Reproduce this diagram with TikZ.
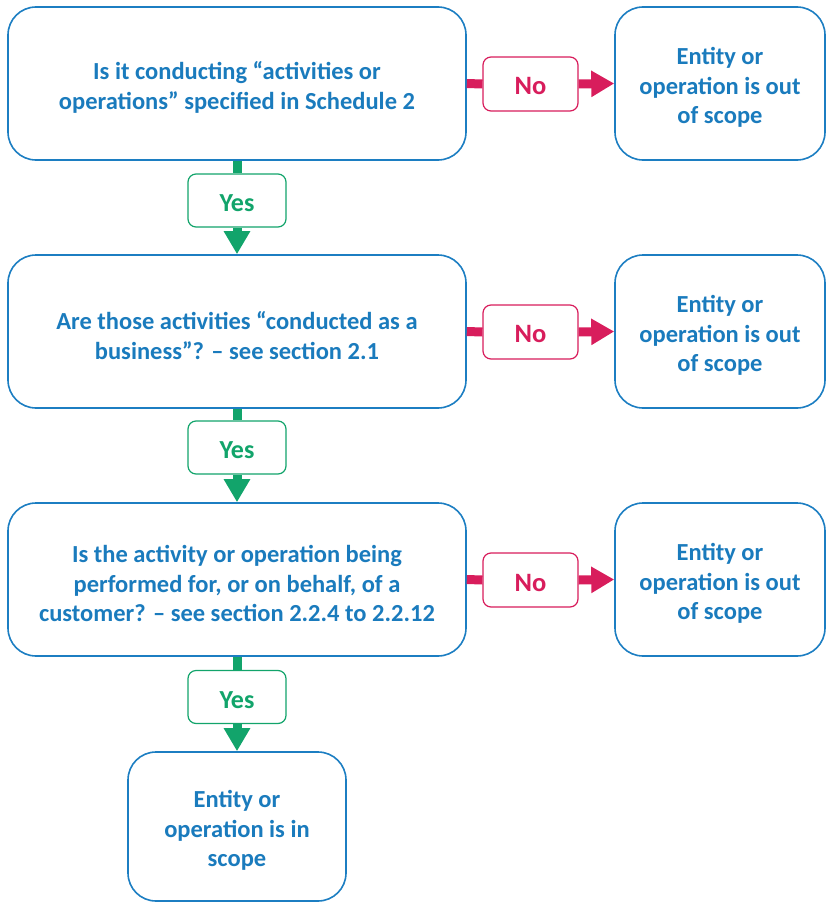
\documentclass[tikz,border=0pt]{standalone}
\usepackage{fontspec}
\setmainfont{Carlito}
\usetikzlibrary{arrows.meta}
\definecolor{boxblue}{HTML}{1C7EC2}
\definecolor{txtblue}{HTML}{1A7BBD}
\definecolor{nored}{HTML}{D81D5C}
\definecolor{yesgreen}{HTML}{12A46B}
\tikzset{
  qbox/.style={draw=boxblue, line width=1.6pt, rounded corners=28pt, minimum width=458pt, minimum height=153pt, inner sep=0pt},
  obox/.style={draw=boxblue, line width=1.6pt, rounded corners=28pt, minimum width=210pt, minimum height=153pt, inner sep=0pt},
  btext/.style={align=center, text=txtblue, font=\fontsize{24.5}{29.3}\selectfont\bfseries, inner sep=0pt, yshift=-4pt},
  nobox/.style={draw=nored, line width=1.2pt, rounded corners=8pt, minimum width=95pt, minimum height=54pt, fill=white},
  yesbox/.style={draw=yesgreen, line width=1.2pt, rounded corners=8pt, minimum width=98pt, minimum height=53pt, fill=white},
  notext/.style={text=nored, font=\fontsize{26.5}{28}\selectfont\bfseries, inner sep=0pt, yshift=-2.5pt},
  yestext/.style={text=yesgreen, font=\fontsize{26}{28}\selectfont\bfseries, inner sep=0pt, yshift=-3pt},
  redline/.style={draw=nored, line width=9pt},
  redarrow/.style={draw=nored, line width=9pt, -{Triangle[width=25pt,length=23pt]}},
  greenline/.style={draw=yesgreen, line width=9pt},
  greenarrow/.style={draw=yesgreen, line width=9pt, -{Triangle[width=25pt,length=23pt]}}
}
\begin{document}
\begin{tikzpicture}[x=1pt,y=-1pt]
\useasboundingbox (0,0) rectangle (826,902);
% row 1
\node[qbox] (q1) at (237,83.5) {};
\node[btext] (q1t) at (q1.center) {Is it conducting “activities or\\operations” specified in Schedule 2};
\node[nobox] (n1) at (530.5,84) {};
\node[notext] (n1t) at (n1.center) {No};
\node[obox] (o1) at (720,83.5) {};
\node[btext] (o1t) at (o1.center) {Entity or\\operation is out\\of scope};
\node[yesbox] (y1) at (237,200.5) {};
\node[yestext] (y1t) at (y1.center) {Yes};
% row 2
\node[qbox] (q2) at (237,331.5) {};
\node[btext] (q2t) at (q2.center) {Are those activities “conducted as a\\business”? – see section 2.1};
\node[nobox] (n2) at (530.5,332) {};
\node[notext] (n2t) at (n2.center) {No};
\node[obox] (o2) at (720,331.5) {};
\node[btext] (o2t) at (o2.center) {Entity or\\operation is out\\of scope};
\node[yesbox] (y2) at (237,447.5) {};
\node[yestext] (y2t) at (y2.center) {Yes};
% row 3
\node[qbox] (q3) at (237,579.5) {};
\node[btext] (q3t) at (q3.center) {Is the activity or operation being\\performed for, or on behalf, of a\\customer? – see section 2.2.4 to 2.2.12};
\node[nobox] (n3) at (530.5,580) {};
\node[notext] (n3t) at (n3.center) {No};
\node[obox] (o3) at (720,579.5) {};
\node[btext] (o3t) at (o3.center) {Entity or\\operation is out\\of scope};
\node[yesbox] (y3) at (237,697) {};
\node[yestext] (y3t) at (y3.center) {Yes};
% final
\node[obox, minimum width=218pt, minimum height=149pt] (f) at (237,826.5) {};
\node[btext] (ft) at (f.center) {Entity or\\operation is in\\scope};
% connectors
\draw[redline] (q1.east) -- (n1.west);
\draw[redarrow] (n1.east) -- (o1.west);
\draw[redline] (q2.east) -- (n2.west);
\draw[redarrow] (n2.east) -- (o2.west);
\draw[redline] (q3.east) -- (n3.west);
\draw[redarrow] (n3.east) -- (o3.west);
\draw[greenline] (q1.south) -- (y1.north);
\draw[greenarrow] (y1.south) -- (q2.north);
\draw[greenline] (q2.south) -- (y2.north);
\draw[greenarrow] (y2.south) -- (q3.north);
\draw[greenline] (q3.south) -- (y3.north);
\draw[greenarrow] (y3.south) -- (f.north);
\end{tikzpicture}
\end{document}
